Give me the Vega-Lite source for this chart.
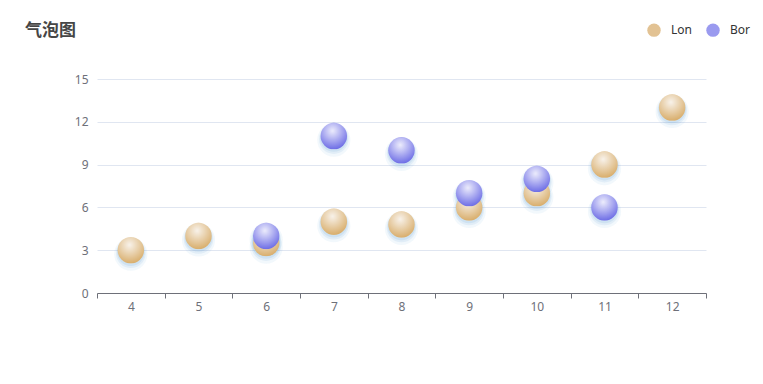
{
  "$schema": "https://vega.github.io/schema/vega-lite/v6.json",
  "autosize": {"type": "none"},
  "padding": {"left": 97, "top": 79, "right": 57, "bottom": 91},
  "width": 609,
  "height": 214,
  "background": "#ffffff",
  "title": {
    "text": "气泡图",
    "anchor": "start",
    "frame": "group",
    "dx": -72,
    "offset": 0,
    "dy": 17,
    "fontSize": 17,
    "fontWeight": "bold",
    "color": "#464646",
    "font": "Noto Sans CJK SC"
  },
  "config": {
    "view": {"stroke": null},
    "font": "Noto Sans",
    "axis": {"labelFont": "Noto Sans", "labelColor": "#6e7079", "labelFontSize": 12}
  },
  "data": {
    "values": [
      {"x": "4", "y": 3, "series": "Lon"},
      {"x": "5", "y": 4, "series": "Lon"},
      {"x": "6", "y": 3.5, "series": "Lon"},
      {"x": "7", "y": 5, "series": "Lon"},
      {"x": "8", "y": 4.8, "series": "Lon"},
      {"x": "9", "y": 6, "series": "Lon"},
      {"x": "10", "y": 7, "series": "Lon"},
      {"x": "11", "y": 9, "series": "Lon"},
      {"x": "12", "y": 13, "series": "Lon"},
      {"x": "6", "y": 4, "series": "Bor"},
      {"x": "7", "y": 11, "series": "Bor"},
      {"x": "8", "y": 10, "series": "Bor"},
      {"x": "9", "y": 7, "series": "Bor"},
      {"x": "10", "y": 8, "series": "Bor"},
      {"x": "11", "y": 6, "series": "Bor"}
    ]
  },
  "encoding": {
    "x": {
      "field": "x", "type": "ordinal",
      "sort": ["4","5","6","7","8","9","10","11","12"],
      "scale": {"type": "band", "paddingInner": 0, "paddingOuter": 0},
      "axis": {
        "title": null, "labelAngle": 0, "tickBand": "extent",
        "domainColor": "#6e7079", "tickColor": "#6e7079", "tickSize": 5,
        "labelPadding": 3, "grid": false
      }
    },
    "y": {
      "field": "y", "type": "quantitative",
      "scale": {"domain": [0, 15], "nice": false},
      "axis": {
        "title": null, "values": [0, 3, 6, 9, 12, 15], "domain": false, "ticks": false,
        "gridColor": "#e0e6f1", "labelPadding": 9
      }
    }
  },
  "layer": [
    {
      "mark": {"type": "point", "filled": true, "size": 1100, "yOffset": 4, "color": "#4a98d0", "opacity": 0.07, "strokeWidth": 0},
      "encoding": {"detail": {"field": "series"}}
    },
    {
      "mark": {"type": "point", "filled": true, "size": 880, "yOffset": 3, "color": "#4a98d0", "opacity": 0.1, "strokeWidth": 0},
      "encoding": {"detail": {"field": "series"}}
    },
    {
      "mark": {"type": "point", "filled": true, "size": 760, "yOffset": 2, "color": "#4a98d0", "opacity": 0.12, "strokeWidth": 0},
      "encoding": {"detail": {"field": "series"}}
    },
    {
      "transform": [{"filter": "datum.series === 'Lon'"}],
      "mark": {"type": "point", "filled": true, "size": 700, "opacity": 1, "strokeWidth": 0,
        "color": {"gradient": "radial", "x1": 0.45, "y1": 0.3, "r1": 0, "x2": 0.45, "y2": 0.3, "r2": 0.75,
          "stops": [{"offset": 0, "color": "#f8f2ea"}, {"offset": 1, "color": "#d6a963"}]}}
    },
    {
      "transform": [{"filter": "datum.series === 'Bor'"}],
      "mark": {"type": "point", "filled": true, "size": 700, "opacity": 1, "strokeWidth": 0,
        "color": {"gradient": "radial", "x1": 0.45, "y1": 0.3, "r1": 0, "x2": 0.45, "y2": 0.3, "r2": 0.75,
          "stops": [{"offset": 0, "color": "#ececfc"}, {"offset": 1, "color": "#6565e4"}]}}
    },
    {
      "mark": {"type": "point", "filled": true, "size": 10, "opacity": 0},
      "encoding": {
        "color": {
          "field": "series", "type": "nominal",
          "scale": {"domain": ["Lon", "Bor"], "range": ["#e2c293", "#9a9aef"]},
          "legend": {
            "title": null, "orient": "none", "direction": "horizontal",
            "legendX": 550, "legendY": -56,
            "symbolSize": 180, "symbolType": "circle", "symbolStrokeWidth": 0, "symbolOpacity": 1,
            "labelFontSize": 12, "labelColor": "#333333", "labelFont": "Noto Sans",
            "columnPadding": 14, "labelOffset": 10
          }
        }
      }
    }
  ]
}
